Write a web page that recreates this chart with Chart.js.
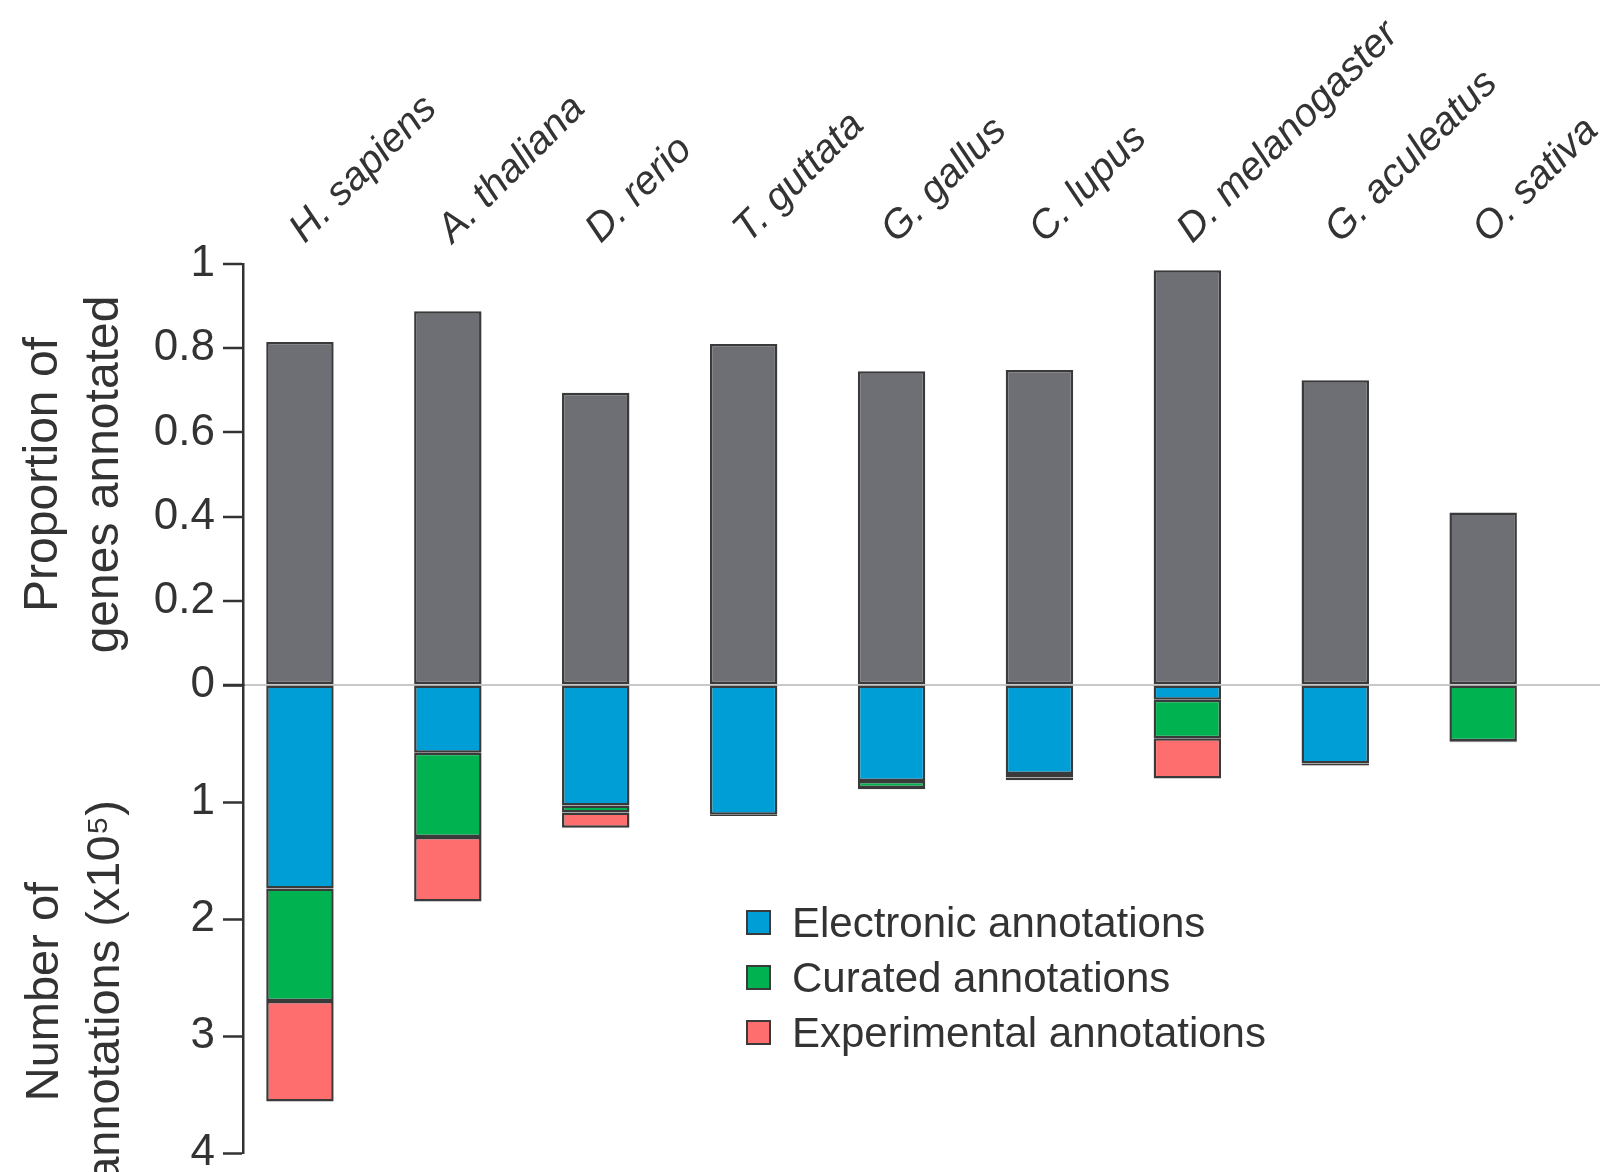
<!DOCTYPE html>
<html>
<head>
<meta charset="utf-8">
<script src="https://cdn.jsdelivr.net/npm/chart.js@4.4.1/dist/chart.umd.min.js"></script>
<style>
  html, body { margin: 0; padding: 0; background: #fff; }
  #wrap { position: relative; width: 1607px; height: 1172px; overflow: hidden; }
  #legend { position: absolute; left: 746px; top: 895px; font: 42px "Liberation Sans", Arial, sans-serif; color: #333; }
  #legend .row { display: flex; align-items: center; height: 55px; white-space: nowrap; }
  #legend .swatch { width: 21px; height: 21px; border: 2px solid #3a3a3a; margin-right: 21px; }
</style>
</head>
<body>
<div id="wrap">
  <canvas id="chart" width="1607" height="1172"></canvas>
  <div id="legend"></div>
</div>
<script>
const species = ["H. sapiens", "A. thaliana", "D. rerio", "T. guttata", "G. gallus",
                 "C. lupus", "D. melanogaster", "G. aculeatus", "O. sativa"];
const proportionAnnotated = [0.815, 0.888, 0.694, 0.81, 0.745, 0.748, 0.985, 0.724, 0.41];

// annotation counts, x10^5
const electronic   = [1.74, 0.58, 1.03, 1.11, 0.82, 0.76, 0.125, 0.67, 0];
const curated      = [0.96, 0.72, 0.06, 0.01, 0.06, 0.03, 0.33, 0.015, 0.48];
const experimental = [0.86, 0.55, 0.13, 0, 0.01, 0.025, 0.345, 0.005, 0.01];

const proportionTicks = [0, 0.2, 0.4, 0.6, 0.8, 1];
const countTicks = [0, 1, 2, 3, 4];

const FONT = "'Liberation Sans', Arial, sans-serif";
const TEXT = "#333";
const EDGE = "#3a3a3a";

const points = (values) => values.map((v, i) => ({ x: i, y: v }));

function barSet(label, values, color, axis) {
    return {
        label: label,
        data: points(values),
        yAxisID: axis,
        backgroundColor: color,
        borderColor: EDGE,
        borderWidth: 2.5,
        borderSkipped: false,
        barPercentage: 0.456,
        categoryPercentage: 1,
        stack: "annotations"
    };
}

// bottom panel title, sits a little below the panel's centre
const countAxisTitle = {
    id: "countAxisTitle",
    afterDraw(chart) {
        const s = chart.scales.yCount;
        const ctx = chart.ctx;
        const lines = ["Number of", "annotations (x10\u2075)"];
        ctx.save();
        ctx.fillStyle = TEXT;
        ctx.font = "47px " + FONT;
        ctx.textAlign = "center";
        ctx.textBaseline = "middle";
        ctx.translate(45, s.top + s.height * 0.655);
        ctx.rotate(-Math.PI / 2);
        lines.forEach((line, i) => ctx.fillText(line, 0, i * 61));
        ctx.restore();
    }
};

// y axes: fixed width, no extra room reserved for end labels
function fixAxisBox(s) {
    s.width = 243;
    s.paddingTop = 0;
    s.paddingBottom = 0;
}

const ctx = document.getElementById("chart");

const chart = new Chart(ctx, {
    type: "bar",
    data: {
        datasets: [
            barSet("Proportion of genes annotated", proportionAnnotated, "#6e6f74", "yProp"),
            barSet("Electronic annotations", electronic, "#009ed6", "yCount"),
            barSet("Curated annotations", curated, "#00b250", "yCount"),
            barSet("Experimental annotations", experimental, "#ff6e6e", "yCount")
        ]
    },
    plugins: [countAxisTitle],
    options: {
        responsive: false,
        animation: false,
        layout: {
            padding: { left: 0, top: 0, right: 7, bottom: 19 }
        },
        plugins: {
            legend: { display: false },
            tooltip: { enabled: false }
        },
        scales: {
            x: {
                type: "linear",
                position: "top",
                offset: false,
                min: -0.385,
                max: 8.79,
                grid: { display: false, drawTicks: false },
                border: { display: false },
                ticks: {
                    stepSize: 1,
                    includeBounds: false,
                    autoSkip: false,
                    minRotation: 45,
                    maxRotation: 45,
                    padding: 11,
                    labelOffset: 31,
                    color: TEXT,
                    font: { family: FONT, size: 40, style: "italic" },
                    callback: (v) => species[v] ?? ""
                },
                afterFit: (s) => {
                    s.height = 264;
                    s.paddingLeft = 0;
                    s.paddingRight = 0;
                }
            },
            yCount: {
                type: "linear",
                position: "left",
                stack: "panels",
                stackWeight: 468,
                reverse: true,
                stacked: true,
                min: 0,
                max: 4,
                afterBuildTicks: (s) => { s.ticks = countTicks.map((v) => ({ value: v })); },
                afterFit: fixAxisBox,
                border: { color: "#333", width: 2.5 },
                grid: {
                    drawOnChartArea: false,
                    tickLength: 20,
                    tickWidth: 2.5,
                    tickColor: "#333"
                },
                ticks: {
                    autoSkip: false,
                    padding: 8,
                    color: TEXT,
                    font: { family: FONT, size: 44 },
                    callback: (v) => (v === 0 ? "" : String(v))
                }
            },
            yProp: {
                type: "linear",
                position: "left",
                stack: "panels",
                stackWeight: 421,
                stacked: true,
                min: 0,
                max: 1,
                afterBuildTicks: (s) => { s.ticks = proportionTicks.map((v) => ({ value: v })); },
                afterFit: fixAxisBox,
                border: { color: "#333", width: 2.5 },
                grid: {
                    color: (c) => (c.tick && c.tick.value === 0 ? "#c9c9c9" : "rgba(0,0,0,0)"),
                    lineWidth: 2,
                    tickLength: 20,
                    tickWidth: 2.5,
                    tickColor: "#333"
                },
                ticks: {
                    autoSkip: false,
                    padding: 8,
                    color: TEXT,
                    font: { family: FONT, size: 44 },
                    callback: (v) => String(v)
                },
                title: {
                    display: true,
                    text: ["Proportion of", "genes annotated"],
                    color: TEXT,
                    font: { family: FONT, size: 48, lineHeight: 1.27 },
                    padding: { top: 13, bottom: 0 }
                }
            }
        }
    }
});

// legend for the annotation series
const legend = document.getElementById("legend");
chart.data.datasets.slice(1).forEach((ds) => {
    const row = document.createElement("div");
    row.className = "row";
    const swatch = document.createElement("span");
    swatch.className = "swatch";
    swatch.style.background = ds.backgroundColor;
    const label = document.createElement("span");
    label.textContent = ds.label;
    row.appendChild(swatch);
    row.appendChild(label);
    legend.appendChild(row);
});
</script>
</body>
</html>
